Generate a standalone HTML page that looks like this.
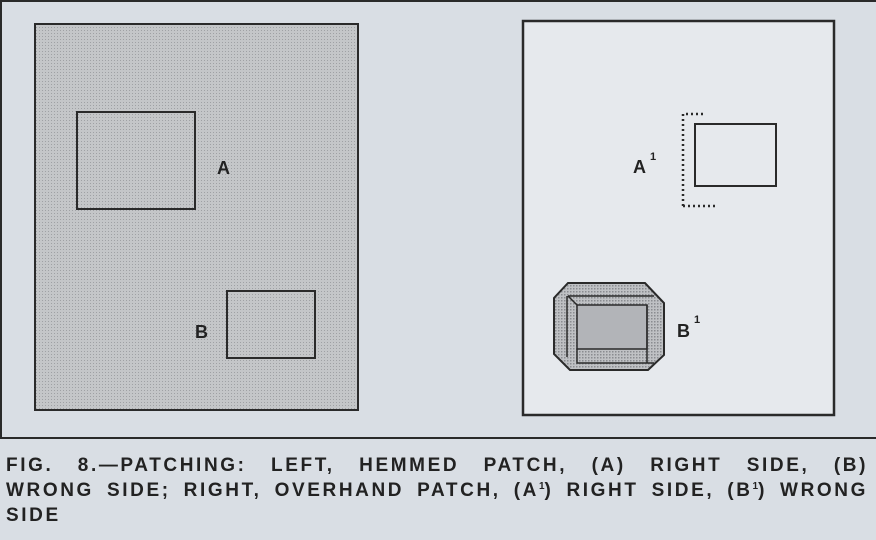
<!DOCTYPE html>
<html><head><meta charset="utf-8"><style>
html,body{margin:0;padding:0}
body{width:876px;height:540px;background:#d9dee4;position:relative;overflow:hidden;font-family:"Liberation Sans",sans-serif}
.frame{position:absolute;left:0;top:0;width:874px;height:435px;border:2px solid #2a2a2a;border-right:none;box-sizing:content-box}
.cap{position:absolute;left:6px;width:862px;font-weight:bold;font-size:19px;letter-spacing:2.6px;color:#222;text-align:justify;text-align-last:justify;white-space:nowrap;line-height:25px;height:25px}
.cap.l{text-align-last:left}
.s{font-size:10px;position:relative;top:-7px;letter-spacing:0}
</style></head><body>
<div class="frame"></div>
<svg width="876" height="540" style="position:absolute;left:0;top:0">
<defs>
<pattern id="dots" width="3" height="3" patternUnits="userSpaceOnUse">
<rect width="3" height="3" fill="#c4c6c8"/><rect width="1" height="1" fill="#9fa1a4"/>
</pattern>
<pattern id="hatch" width="3" height="3" patternUnits="userSpaceOnUse">
<rect width="3" height="3" fill="#bfc1c4"/><rect width="1.5" height="1.5" fill="#8a8c90"/>
</pattern>
</defs>
<rect x="35" y="24" width="323" height="386" fill="url(#dots)" stroke="#2a2a2a" stroke-width="2"/>
<rect x="77" y="112" width="118" height="97" fill="none" stroke="#2a2a2a" stroke-width="2"/>
<rect x="227" y="291" width="88" height="67" fill="none" stroke="#2a2a2a" stroke-width="2"/>
<text x="217" y="174" font-family="Liberation Sans" font-weight="bold" font-size="18" fill="#222">A</text>
<text x="195" y="338" font-family="Liberation Sans" font-weight="bold" font-size="18" fill="#222">B</text>
<rect x="523" y="21" width="311" height="394" fill="#e6e9ed" stroke="#2a2a2a" stroke-width="2.5"/>
<rect x="695" y="124" width="81" height="62" fill="none" stroke="#2a2a2a" stroke-width="2"/>
<path d="M683 206 V114 H705 M683 206 H716" fill="none" stroke="#2a2a2a" stroke-width="2.5" stroke-dasharray="2 3"/>
<text x="633" y="173" font-family="Liberation Sans" font-weight="bold" font-size="18" fill="#222">A</text>
<text x="650" y="160" font-family="Liberation Sans" font-weight="bold" font-size="11" fill="#222">1</text>
<polygon points="568,283 645,283 664,303 664,355 648,370 570,370 554,354 554,298" fill="url(#hatch)" stroke="#2a2a2a" stroke-width="2"/>
<rect x="577" y="305" width="70" height="44" fill="#b2b4b8" stroke="#2a2a2a" stroke-width="1.5"/>
<path d="M568 296 H654 M567 296 V357 M577 349 V363 H654 M647 305 V363 M568 296 L577 305" fill="none" stroke="#2a2a2a" stroke-width="1.5"/>
<text x="677" y="337" font-family="Liberation Sans" font-weight="bold" font-size="18" fill="#222">B</text>
<text x="694" y="323" font-family="Liberation Sans" font-weight="bold" font-size="11" fill="#222">1</text>
</svg>
<div class="cap" style="top:453px">FIG. 8.—PATCHING: LEFT, HEMMED PATCH, (A) RIGHT SIDE, (B)</div>
<div class="cap" style="top:478px">WRONG SIDE; RIGHT, OVERHAND PATCH, (A<span class="s">1</span>) RIGHT SIDE, (B<span class="s">1</span>) WRONG</div>
<div class="cap l" style="top:503px">SIDE</div>
</body></html>
